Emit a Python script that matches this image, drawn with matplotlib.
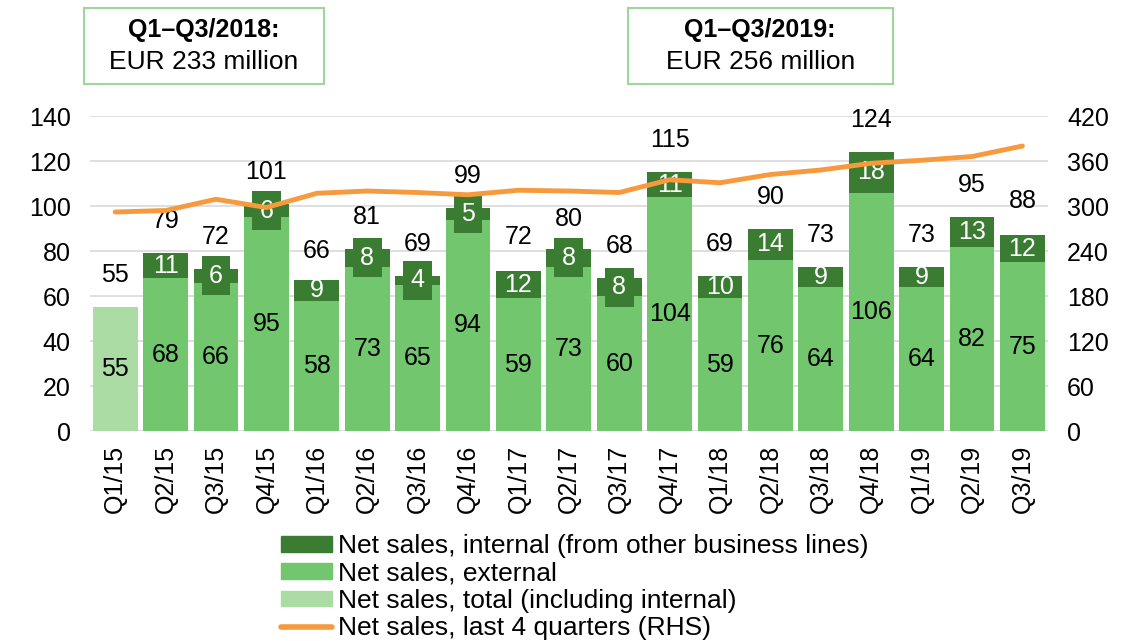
import matplotlib
matplotlib.use('Agg')
import matplotlib.pyplot as plt
from matplotlib.patches import Rectangle, Patch
from matplotlib.lines import Line2D
import numpy as np

plt.rcParams['font.family'] = ['Liberation Sans', 'DejaVu Sans']

quarters = ['Q1/15', 'Q2/15', 'Q3/15', 'Q4/15', 'Q1/16', 'Q2/16', 'Q3/16', 'Q4/16',
            'Q1/17', 'Q2/17', 'Q3/17', 'Q4/17', 'Q1/18', 'Q2/18', 'Q3/18', 'Q4/18',
            'Q1/19', 'Q2/19', 'Q3/19']
total_only = [55]
external = [0, 68, 66, 95, 58, 73, 65, 94, 59, 73, 60, 104, 59, 76, 64, 106, 64, 82, 75]
internal = [0, 11, 6, 6, 9, 8, 4, 5, 12, 8, 8, 11, 10, 14, 9, 18, 9, 13, 12]
totals = [55, 79, 72, 101, 66, 81, 69, 99, 72, 80, 68, 115, 69, 90, 73, 124, 73, 95, 88]
last4q = [292, 294, 309, 298, 317, 320, 318, 315, 321, 320, 318, 335, 331, 342, 348,
          357, 361, 366, 380]

DARK = '#3a7d32'
MID = '#72c66e'
LIGHT = '#aadca4'
ORANGE = '#f79a3e'
FS = 18

def draw_boxes(fig):
    boxes = [(0.074, 0.2115, 'Q1–Q3/2018:', 'EUR 233 million'),
             (0.553, 0.2335, 'Q1–Q3/2019:', 'EUR 256 million')]
    for x0, w, head, body in boxes:
        fig.add_artist(Rectangle((x0, 0.869), w, 0.1186, transform=fig.transFigure,
                                 facecolor='white', edgecolor='#9fd69a', lw=1.5))
        fig.text(x0 + w / 2, 0.953, head, ha='center', va='center', fontsize=18,
                 fontweight='bold')
        fig.text(x0 + w / 2, 0.903, body, ha='center', va='center', fontsize=19)

def plot_sales():
    fig = plt.figure(figsize=(11.35, 6.41), dpi=100)
    ax = fig.add_axes([0.0793, 0.3276, 0.8437, 0.4914])
    ax2 = ax.twinx()
    ax.set_zorder(ax2.get_zorder() - 1)
    ax2.patch.set_visible(False)

    x = np.arange(len(quarters))
    w = 0.89

    ext = np.array(external, dtype=float)
    inn = np.array(internal, dtype=float)
    ax.bar(x[:1], total_only, w, color=LIGHT, zorder=2)
    ax.bar(x[1:], ext[1:], w, color=MID, zorder=2)
    ax.bar(x[1:], inn[1:], w, bottom=ext[1:], color=DARK, zorder=2)

    for i in range(len(quarters)):
        ax.annotate(str(totals[i]), (x[i], totals[i]), xytext=(0, 23),
                    textcoords='offset points', ha='center', va='center',
                    fontsize=FS, annotation_clip=False)
        if i == 0:
            ax.text(x[i], total_only[0] / 2, str(total_only[0]), ha='center',
                    va='center', fontsize=FS, zorder=4)
            continue
        ax.text(x[i], ext[i] / 2, str(external[i]), ha='center', va='center',
                fontsize=FS, zorder=4)
        # Excel only boxed the labels that did not fit in their segment
        box = None
        if internal[i] < 9:
            box = dict(boxstyle='square,pad=0.3', facecolor=DARK, edgecolor='none')
        ax.text(x[i], ext[i] + inn[i] / 2, str(internal[i]), ha='center',
                va='center', fontsize=FS, color='white', zorder=4, bbox=box)

    ax2.plot(x, last4q, color=ORANGE, lw=3.5, solid_capstyle='round', zorder=5)

    ax.set_xlim(-0.5, len(quarters) - 0.5)
    ax.set_ylim(0, 140)
    ax.set_yticks(np.arange(0, 141, 20))
    ax2.set_ylim(0, 420)
    ax2.set_yticks(np.arange(0, 421, 60))
    ax.grid(axis='y', color='#d9d9d9', lw=1.2, zorder=0)
    ax.set_axisbelow(True)
    ax.set_xticks(x)
    ax.set_xticklabels(quarters, rotation=90, fontsize=FS)
    for a in (ax, ax2):
        for s in a.spines.values():
            s.set_visible(False)
        a.tick_params(length=0, labelsize=FS)
    ax.tick_params(axis='y', pad=14)
    ax2.tick_params(axis='y', pad=14)
    ax.tick_params(axis='x', pad=10)

    handles = [Patch(color=DARK), Patch(color=MID), Patch(color=LIGHT),
               Line2D([], [], color=ORANGE, lw=4, solid_capstyle='round')]
    labels = ['Net sales, internal (from other business lines)', 'Net sales, external',
              'Net sales, total (including internal)', 'Net sales, last 4 quarters (RHS)']
    fig.legend(handles, labels, loc='upper left', bbox_to_anchor=(0.248, 0.167),
               frameon=False, fontsize=19, borderpad=0, borderaxespad=0,
               labelspacing=0.13, handlelength=1.93, handleheight=0.55,
               handletextpad=0.23)

    draw_boxes(fig)
    fig.savefig('out.png', dpi=100)

if __name__ == '__main__':
    plot_sales()
